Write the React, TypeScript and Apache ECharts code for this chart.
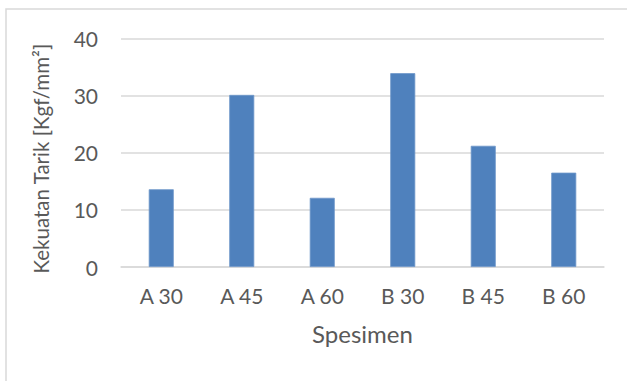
import React, { useEffect, useRef } from "react";
import * as echarts from "echarts";

const categories = ["A 30", "A 45", "A 60", "B 30", "B 45", "B 60"];
const values = [13.6, 30.1, 12.1, 33.9, 21.2, 16.5];
const yTicks = { min: 0, max: 40, interval: 10 };
const xName = "Spesimen";
const yName = "Kekuatan Tarik [Kgf/mm²]";

const FONT = "Lato, 'Open Sans', sans-serif";
const TEXT = "#595959";

export default function App() {
  const ref = useRef<HTMLDivElement>(null);
  useEffect(() => {
    if (!ref.current) return;
    const chart = echarts.init(ref.current, undefined, { renderer: "svg" });
    chart.setOption({
      animation: false,
      backgroundColor: "#ffffff",
      textStyle: { fontFamily: FONT },
      grid: { left: 121, right: 23, top: 38.3, bottom: 114, containLabel: false },
      graphic: [
        {
          type: "rect",
          shape: { x: 6, y: 9, width: 700, height: 500 },
          style: { fill: "none", stroke: "#d9d9d9", lineWidth: 1.5 },
          silent: true,
        },
      ],
      xAxis: {
        type: "category",
        data: categories,
        name: xName,
        nameLocation: "middle",
        nameGap: 54,
        nameTextStyle: { color: TEXT, fontSize: 24, fontFamily: FONT },
        axisLine: { show: true, lineStyle: { color: "#d9d9d9", width: 1.5 } },
        axisTick: { show: false },
        axisLabel: { color: TEXT, fontSize: 21, margin: 18, fontFamily: FONT },
      },
      yAxis: {
        type: "value",
        min: yTicks.min,
        max: yTicks.max,
        interval: yTicks.interval,
        name: yName,
        nameLocation: "middle",
        nameGap: 70,
        nameTextStyle: {
          color: TEXT,
          fontSize: 20.5,
          fontFamily: FONT,
          padding: [0, 12, 0, 0],
        },
        axisLine: { show: false },
        axisTick: { show: false },
        splitLine: { lineStyle: { color: "#d9d9d9", width: 1.5 } },
        axisLabel: { color: TEXT, fontSize: 21, margin: 23, fontFamily: FONT },
      },
      series: [
        {
          type: "bar",
          data: values,
          barWidth: 25,
          itemStyle: { color: "#4f81bd", borderColor: "#6f97c9", borderWidth: 0.8 },
        },
      ],
    });
    return () => chart.dispose();
  }, []);
  return (
    <div
      ref={ref}
      style={{ position: "fixed", left: 0, top: 0, width: 627, height: 381 }}
    />
  );
}
